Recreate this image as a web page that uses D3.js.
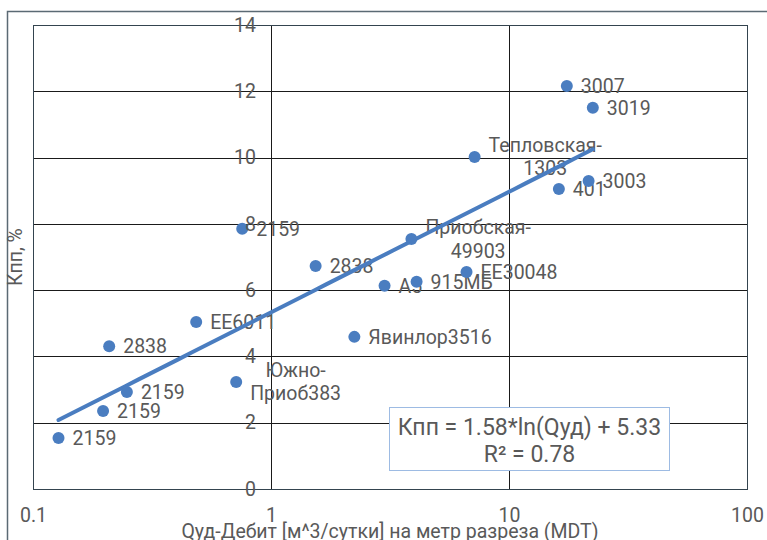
<!DOCTYPE html>
<html>
<head>
<meta charset="utf-8">
<script src="https://cdn.jsdelivr.net/npm/d3@7"></script>
<style>
  body { margin: 0; background: #fff; }
  text { font-family: Roboto, "Liberation Sans", sans-serif; fill: #595959; }
</style>
</head>
<body>
<div id="chart"></div>
<script>
// data
const wells = ['2159', '2159', '2159', '2838', 'EE6011', 'Южно-\nПриоб383', '2159', '2838',
    'Явинлор3516', 'A5', '915МБ', 'Приобская-\n49903', 'EE30048', 'Тепловская-\n1303',
    '401', '3003', '3007', '3019'];
const qud = [0.128, 0.197, 0.248, 0.209, 0.485, 0.714, 0.757, 1.54,
    2.24, 3.0, 4.09, 3.89, 6.63, 7.17, 16.2, 21.6, 17.5, 22.5];
const kpp = [1.54, 2.35, 2.93, 4.31, 5.04, 3.23, 7.85, 6.73,
    4.59, 6.13, 6.25, 7.54, 6.55, 10.02, 9.05, 9.29, 12.16, 11.5];
const xTicks = [0.1, 1, 10, 100];
const yTicks = [0, 2, 4, 6, 8, 10, 12, 14];
const trendA = 1.58, trendB = 5.33, r2 = 0.78;

const W = 767, H = 540;
const margin = {top: 25, right: 20, bottom: 51, left: 33};
const width = W - margin.left - margin.right,
    height = H - margin.top - margin.bottom;
const fs = 19.5;

const root = d3.select('#chart').append('svg')
    .attr('width', W)
    .attr('height', H);

// outer chart frame (runs off the page on the right/bottom)
root.append('rect')
    .attr('x', 7.5).attr('y', 11.5)
    .attr('width', 800).attr('height', 600)
    .attr('fill', 'none')
    .attr('stroke', '#5b6a74')
    .attr('stroke-width', 1.5);

const svg = root.append('g')
    .attr('transform', `translate(${margin.left},${margin.top})`);

const x = d3.scaleLog().domain([0.1, 100]).range([0, width]);
const y = d3.scaleLinear().domain([0, 14]).range([height, 0]);

// grid
svg.append('g').selectAll('line')
    .data(yTicks)
    .join('line')
    .attr('x1', 0).attr('x2', width)
    .attr('y1', d => Math.round(y(d)) + 0.5).attr('y2', d => Math.round(y(d)) + 0.5)
    .attr('stroke', '#1a1a1a');

svg.append('g').selectAll('line')
    .data([1, 10])
    .join('line')
    .attr('x1', d => Math.round(x(d)) + 0.5).attr('x2', d => Math.round(x(d)) + 0.5)
    .attr('y1', 0).attr('y2', height)
    .attr('stroke', '#1a1a1a');

svg.append('rect')
    .attr('x', 0.5).attr('y', 0.5)
    .attr('width', width).attr('height', height)
    .attr('fill', 'none')
    .attr('stroke', '#34444f');

const points = wells.map((w, i) => ({name: w, q: qud[i], k: kpp[i]}));

// data labels, right of the point
const labels = svg.append('g').selectAll('text')
    .data(points)
    .join('text')
    .attr('font-size', fs)
    .attr('y', d => y(d.k));

labels.each(function(d) {
    const t = d3.select(this);
    const lines = d.name.split('\n');
    lines.forEach((ln, j) => {
        t.append('tspan')
            .attr('dy', j === 0 ? `${0.35 - (lines.length - 1) * 0.6}em` : '1.2em')
            .text(ln);
    });
    const tsp = t.selectAll('tspan').nodes();
    const bw = d3.max(tsp, n => n.getComputedTextLength());
    const cx = x(d.q) + 14 + bw / 2;
    t.selectAll('tspan').attr('x', cx).attr('text-anchor', 'middle');
});

// log trendline
const qExt = d3.extent(qud);
const trend = d3.range(0, 41).map(i => {
    const q = Math.exp(Math.log(qExt[0]) + i / 40 * (Math.log(qExt[1]) - Math.log(qExt[0])));
    return [q, trendA * Math.log(q) + trendB];
});
svg.append('path')
    .datum(trend)
    .attr('d', d3.line().x(d => x(d[0])).y(d => y(d[1])))
    .attr('fill', 'none')
    .attr('stroke', '#4a7dc0')
    .attr('stroke-width', 4)
    .attr('stroke-linecap', 'round');

svg.append('g').selectAll('circle')
    .data(points)
    .join('circle')
    .attr('cx', d => x(d.q))
    .attr('cy', d => y(d.k))
    .attr('r', 6)
    .attr('fill', '#4a7dc0');

// axes
const yAxis = svg.append('g')
    .attr('transform', `translate(${x(1)},0)`)
    .call(d3.axisLeft(y).tickValues(yTicks).tickSize(0).tickPadding(15));
const xAxis = svg.append('g')
    .attr('transform', `translate(0,${height})`)
    .call(d3.axisBottom(x).tickValues(xTicks).tickSize(0).tickPadding(19)
        .tickFormat(d3.format('~g')));
[yAxis, xAxis].forEach(a => {
    a.select('.domain').remove();
    a.selectAll('text')
        .attr('font-size', fs)
        .attr('fill', '#595959')
        .style('font-family', 'Roboto, sans-serif');
});

svg.append('text')
    .attr('x', width / 2)
    .attr('y', height + 49)
    .attr('text-anchor', 'middle')
    .attr('font-size', fs)
    .text('Qуд-Дебит [м^3/сутки] на метр разреза (MDT)');

svg.append('text')
    .attr('transform', `translate(${22 - margin.left},${height / 2}) rotate(-90)`)
    .attr('text-anchor', 'middle')
    .attr('font-size', fs)
    .text('Кпп, %');

// equation box
const box = svg.append('g').attr('transform', `translate(${389.5 - margin.left},${407.5 - margin.top})`);
box.append('rect')
    .attr('width', 280).attr('height', 63)
    .attr('fill', '#fff')
    .attr('stroke', '#9dbbe3');
box.append('text')
    .attr('x', 140).attr('y', 19)
    .attr('dy', '0.35em')
    .attr('text-anchor', 'middle')
    .attr('font-size', 23)
    .text(`Кпп = ${trendA}*ln(Qуд) + ${trendB}`);
box.append('text')
    .attr('x', 140).attr('y', 46)
    .attr('dy', '0.35em')
    .attr('text-anchor', 'middle')
    .attr('font-size', 23)
    .text(`R² = ${r2}`);
</script>
</body>
</html>
